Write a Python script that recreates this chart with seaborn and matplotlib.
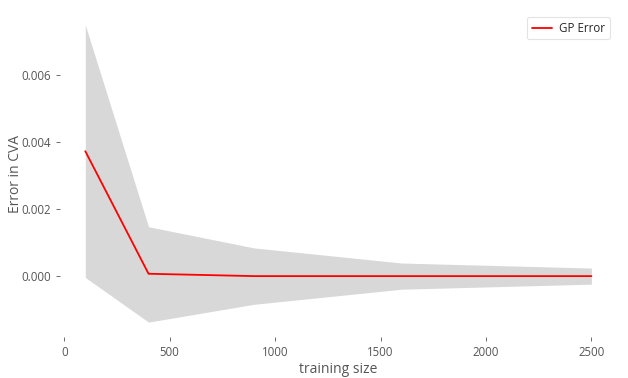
import matplotlib
matplotlib.use("Agg")
import matplotlib.pyplot as plt
import seaborn as sns
import pandas as pd

train_size = [100, 400, 900, 1600, 2500]
gp_error = [0.00372, 0.00007, 0.0, 0.0, 0.0]
upper = [0.00748, 0.00147, 0.00084, 0.00039, 0.00024]
lower = [-0.00004, -0.00137, -0.00084, -0.00039, -0.00024]

sns.set_theme(style="white")
plt.rcParams['font.family'] = ['Open Sans', 'DejaVu Sans']

df = pd.DataFrame({"training size": train_size, "Error in CVA": gp_error})

fig = plt.figure(figsize=(6.28, 3.78), dpi=100)
ax = fig.add_axes([0.0955, 0.1085, 0.8865, 0.865])
ax.fill_between(train_size, lower, upper, color="gray", alpha=0.3, linewidth=0)
sns.lineplot(data=df, x="training size", y="Error in CVA", color="red",
             linewidth=1.3, label="GP Error", ax=ax)

for s in ax.spines.values():
    s.set_visible(False)
ax.set_xticks([0, 500, 1000, 1500, 2000, 2500])
ax.set_yticks([0.0, 0.002, 0.004, 0.006])
ax.set_yticklabels(["0.000", "0.002", "0.004", "0.006"])
ax.tick_params(axis="both", which="both", labelsize=8.3, colors="#555555",
               labelcolor="#555555", length=3, width=0.6, direction="out",
               left=True, bottom=True, pad=3.5)
ax.set_xlabel("training size", fontsize=10, color="#555555", labelpad=2)
ax.set_ylabel("Error in CVA", fontsize=10, color="#555555")
ax.yaxis.set_label_coords(-0.066, 0.5)
leg = ax.legend(loc="upper right", fontsize=8.3, frameon=True, handlelength=1.8,
                handletextpad=0.6, borderaxespad=0.6)
leg.get_frame().set_edgecolor("#dddddd")
leg.get_frame().set_linewidth(0.8)

fig.savefig("out.png", dpi=100)
